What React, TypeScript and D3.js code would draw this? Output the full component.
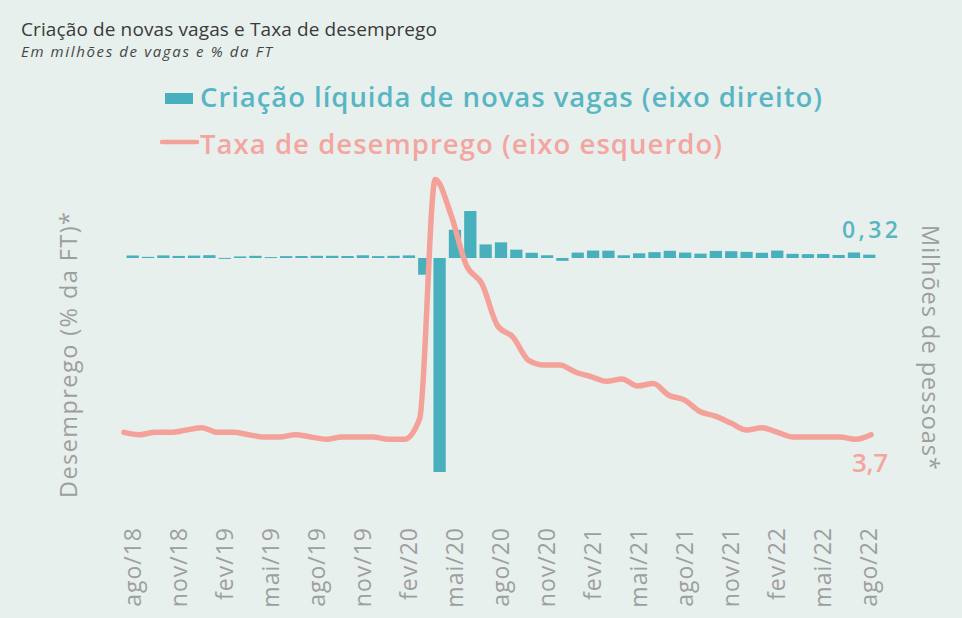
import React from 'react';
import * as d3 from 'd3';

const months = [
  'ago/18','set/18','out/18','nov/18','dez/18',
  'jan/19','fev/19','mar/19','abr/19','mai/19','jun/19','jul/19','ago/19','set/19','out/19','nov/19','dez/19',
  'jan/20','fev/20','mar/20','abr/20','mai/20','jun/20','jul/20','ago/20','set/20','out/20','nov/20','dez/20',
  'jan/21','fev/21','mar/21','abr/21','mai/21','jun/21','jul/21','ago/21','set/21','out/21','nov/21','dez/21',
  'jan/22','fev/22','mar/22','abr/22','mai/22','jun/22','jul/22','ago/22',
];

const tickMonths = [
  'ago/18','nov/18','fev/19','mai/19','ago/19','nov/19','fev/20','mai/20','ago/20',
  'nov/20','fev/21','mai/21','ago/21','nov/21','fev/22','mai/22','ago/22',
];

// Taxa de desemprego (% da FT) – eixo esquerdo
const unemployment = [
  3.8, 3.7, 3.8, 3.8, 3.9,
  4.0, 3.8, 3.8, 3.7, 3.6, 3.6, 3.7, 3.6, 3.5, 3.6, 3.6, 3.6,
  3.5, 3.5, 4.4, 14.7, 13.2, 11.0, 10.2, 8.4, 7.9, 6.9, 6.7, 6.7,
  6.4, 6.2, 6.0, 6.1, 5.8, 5.9, 5.4, 5.2, 4.7, 4.5, 4.2, 3.9,
  4.0, 3.8, 3.6, 3.6, 3.6, 3.6, 3.5, 3.7,
];

// Criação líquida de novas vagas (milhões) – eixo direito
const jobs = [
  0.24, 0.11, 0.25, 0.20, 0.23,
  0.27, 0.01, 0.15, 0.21, 0.09, 0.18, 0.19, 0.21, 0.21, 0.19, 0.26, 0.18,
  0.21, 0.25, -1.6, -20.5, 2.7, 4.5, 1.3, 1.5, 0.8, 0.5, 0.26, -0.27,
  0.52, 0.71, 0.70, 0.26, 0.45, 0.56, 0.69, 0.52, 0.42, 0.68, 0.65, 0.59,
  0.50, 0.71, 0.40, 0.37, 0.39, 0.29, 0.53, 0.32,
];

const title = 'Criação de novas vagas e Taxa de desemprego';
const subtitle = 'Em milhões de vagas e % da FT';
const legendBars = 'Criação líquida de novas vagas (eixo direito)';
const legendLine = 'Taxa de desemprego (eixo esquerdo)';
const leftTitle = 'Desemprego (% da FT)*';
const rightTitle = 'Milhões de pessoas*';

const W = 962;
const H = 618;
const BG = '#e8f0ed';
const TEAL = '#48afbd';
const TEAL_TEXT = '#58b6c4';
const PINK = '#f4a19a';
const PINK_TEXT = '#f5a59f';
const GRAY = '#9d9f9e';
const FONT = '"Open Sans", "DejaVu Sans", sans-serif';

export default function App() {
  const xBand = d3.scaleBand<string>().domain(months).range([125, 877]).paddingInner(0.2).paddingOuter(0.1);
  const xLine = d3.scalePoint<string>().domain(months).range([124, 871]);
  const yLeft = d3.scaleLinear().domain([0, 16]).range([520.5, 149.3]);
  const yRight = d3.scaleLinear().domain([-25, 10]).range([519, 153.6]);

  const lineGen = d3
    .line<number>()
    .x((_, i) => xLine(months[i]) as number)
    .y((d) => yLeft(d))
    .curve(d3.curveMonotoneX);

  const bw = xBand.bandwidth();
  const lastIdx = months.length - 1;

  return (
    <svg
      width={W}
      height={H}
      viewBox={`0 0 ${W} ${H}`}
      style={{ position: 'absolute', left: 0, top: 0, display: 'block' }}
      fontFamily={FONT}
    >
      <rect x={0} y={0} width={W} height={H} fill={BG} />

      {/* Title */}
      <text x={21} y={36} fontSize={19} fill="#3a3a3a" textLength={416} lengthAdjust="spacing">
        {title}
      </text>
      <text x={21} y={57} fontSize={15} fontStyle="italic" fill="#454545" textLength={251} lengthAdjust="spacing">
        {subtitle}
      </text>

      {/* Legend */}
      <rect x={165} y={93} width={28} height={11} fill={TEAL} />
      <text x={200} y={107} fontSize={27.5} fontWeight={600} fill={TEAL_TEXT} textLength={622} lengthAdjust="spacing">
        {legendBars}
      </text>
      <line x1={162} x2={197} y1={142} y2={142} stroke={PINK} strokeWidth={4.5} strokeLinecap="round" />
      <text x={200} y={154} fontSize={27.5} fontWeight={600} fill={PINK_TEXT} textLength={522} lengthAdjust="spacing">
        {legendLine}
      </text>

      {/* Axis titles */}
      <text
        transform={`translate(77, 498) rotate(-90)`}
        fontSize={23.5}
        fill={GRAY}
        textLength={286}
        lengthAdjust="spacing"
      >
        {leftTitle}
      </text>
      <text
        transform={`translate(922, 225) rotate(90)`}
        fontSize={23.5}
        fill={GRAY}
        textLength={245}
        lengthAdjust="spacing"
      >
        {rightTitle}
      </text>

      {/* Bars */}
      {jobs.map((v, i) => {
        const x = xBand(months[i]) as number;
        const y0 = yRight(0);
        const y1 = yRight(v);
        return (
          <rect
            key={months[i]}
            x={x}
            y={Math.min(y0, y1)}
            width={bw}
            height={Math.max(1, Math.abs(y1 - y0))}
            fill={TEAL}
          />
        );
      })}

      {/* Line */}
      <path
        d={lineGen(unemployment) || ''}
        fill="none"
        stroke={PINK}
        strokeWidth={5.5}
        strokeLinejoin="round"
        strokeLinecap="round"
      />

      {/* End labels */}
      <text
        x={870}
        y={238}
        fontSize={23}
        fontWeight={600}
        fill={TEAL_TEXT}
        textAnchor="middle"
        textLength={56}
        lengthAdjust="spacing"
      >
        {String(jobs[lastIdx].toFixed(2)).replace('.', ',')}
      </text>
      <text
        x={870}
        y={472}
        fontSize={26}
        fontWeight={600}
        fill={PINK_TEXT}
        textAnchor="middle"
        textLength={36}
        lengthAdjust="spacing"
      >
        {String(unemployment[lastIdx].toFixed(1)).replace('.', ',')}
      </text>

      {/* X tick labels */}
      {tickMonths.map((m) => {
        const x = (xBand(m) as number) + bw / 2;
        return (
          <text
            key={m}
            transform={`translate(${x}, 527) rotate(-90)`}
            textAnchor="end"
            dy="0.35em"
            fontSize={23}
            letterSpacing={1}
            fill={GRAY}
          >
            {m}
          </text>
        );
      })}
    </svg>
  );
}
